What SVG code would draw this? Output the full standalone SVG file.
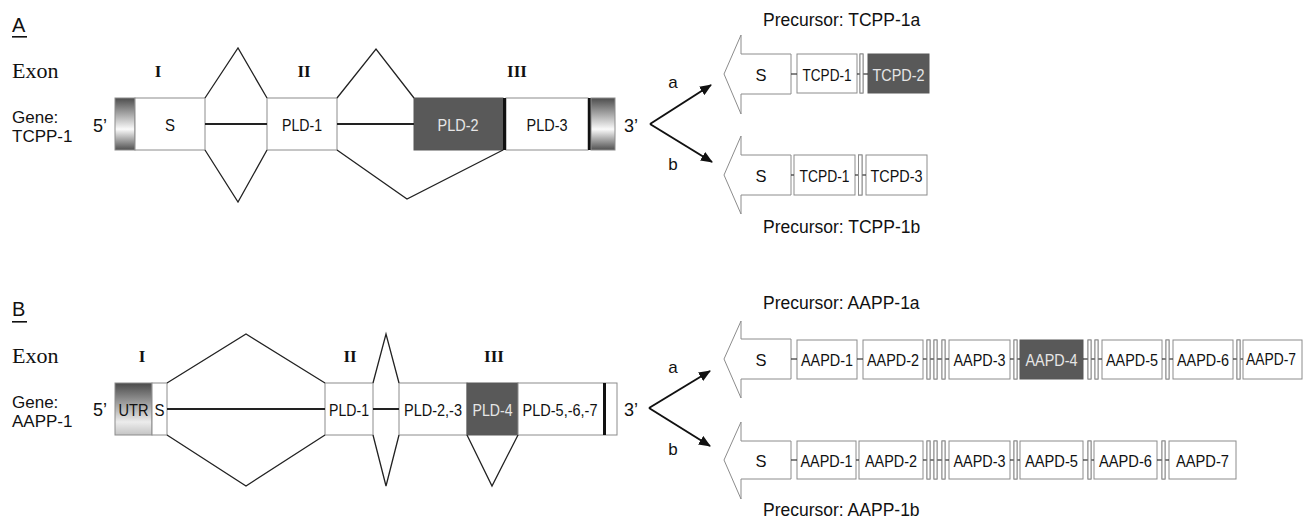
<svg xmlns="http://www.w3.org/2000/svg" width="1305" height="522" viewBox="0 0 1305 522">
<style>
.bg{fill:#fff}
.box{fill:#fff;stroke:#8c8c8c;stroke-width:1}
.dark{fill:#595959;stroke:#595959;stroke-width:1}
.bar{fill:#fff;stroke:#8c8c8c;stroke-width:1}
.blk{fill:#111}
.intr{fill:none;stroke:#222;stroke-width:1.3;stroke-linejoin:miter}
.hl{stroke:#222;stroke-width:2}
.cl{stroke:#333;stroke-width:1.2}
.arr{stroke:#111;stroke-width:2}
.sans{font-family:"Liberation Sans",Arial,sans-serif;fill:#111}
.lbl{font-family:"Liberation Sans",Arial,sans-serif;font-size:17px;fill:#111;text-anchor:middle}
.lbw{font-family:"Liberation Sans",Arial,sans-serif;font-size:17px;fill:#e6e6e6;text-anchor:middle}
.ser{font-family:"Liberation Serif","Times New Roman",serif;fill:#111}
.rom{font-family:"Liberation Serif","Times New Roman",serif;font-size:17px;font-weight:bold;fill:#111;text-anchor:middle}
.big{fill:#fff;stroke:#8c8c8c;stroke-width:1}
</style>
<defs>
<linearGradient id="capA" x1="0" y1="0" x2="0" y2="1">
<stop offset="0" stop-color="#4d4d4d"/><stop offset="0.6" stop-color="#fafafa"/><stop offset="1" stop-color="#505050"/>
</linearGradient>
<linearGradient id="capB" x1="0" y1="0" x2="0" y2="1">
<stop offset="0" stop-color="#4a4a4a"/><stop offset="0.75" stop-color="#ececec"/><stop offset="1" stop-color="#c4c4c4"/>
</linearGradient>
<marker id="ah" viewBox="0 0 12 10" refX="11" refY="5" markerWidth="12" markerHeight="10" markerUnits="userSpaceOnUse" orient="auto">
<path d="M0,0 L12,5 L0,10 Z" fill="#111"/>
</marker>
</defs>
<rect class="bg" x="0" y="0" width="1305" height="522"/>

<g id="labelsA">
<text class="sans" x="12" y="32" font-size="20">A</text>
<rect x="12" y="36" width="15" height="1.6" fill="#111"/>
<text class="ser" x="12" y="78" font-size="22">Exon</text>
<text class="rom" x="158" y="77">I</text>
<text class="rom" x="304" y="77">II</text>
<text class="rom" x="517" y="77">III</text>
<text class="sans" x="12" y="123" font-size="17">Gene:</text>
<text class="sans" x="12" y="142" font-size="17">TCPP-1</text>
<text class="sans" x="93" y="132" font-size="18">5’</text>
<text class="sans" x="624" y="132" font-size="18">3’</text>
</g>

<g id="geneA">
<rect x="115" y="98" width="20" height="52" fill="url(#capA)" stroke="#8c8c8c"/>
<rect class="box" x="135" y="98" width="70" height="52"/>
<text class="lbl" x="170" y="130.5" textLength="10" lengthAdjust="spacingAndGlyphs">S</text>
<rect class="box" x="267" y="98" width="70" height="52"/>
<text class="lbl" x="302" y="130.5" textLength="40" lengthAdjust="spacingAndGlyphs">PLD-1</text>
<rect class="dark" x="414" y="98" width="89" height="52"/>
<text class="lbw" x="458" y="130.5" textLength="41" lengthAdjust="spacingAndGlyphs">PLD-2</text>
<rect class="box" x="506" y="98" width="82" height="52"/>
<text class="lbl" x="547" y="130.5" textLength="41" lengthAdjust="spacingAndGlyphs">PLD-3</text>
<rect class="blk" x="503" y="98" width="3" height="52"/>
<rect class="blk" x="588" y="98" width="3" height="52"/>
<rect x="591" y="98" width="24" height="52" fill="url(#capA)" stroke="#8c8c8c"/>
</g>

<g id="precA_a">
<text class="sans" x="763" y="26" font-size="17.5">Precursor: TCPP-1a</text>
<polygon class="big" points="724,74 741,35 741,54 791,54 791,94 741,94 741,114"/>
<text class="lbl" x="761" y="80.5" textLength="11" lengthAdjust="spacingAndGlyphs">S</text>
<rect class="box" x="797" y="54" width="60" height="39"/>
<text class="lbl" x="827" y="80.5" textLength="49" lengthAdjust="spacingAndGlyphs">TCPD-1</text>
<rect class="bar" x="860" y="54" width="3" height="39"/>
<rect class="dark" x="868" y="54" width="61" height="39"/>
<text class="lbw" x="898.5" y="80.5" textLength="52" lengthAdjust="spacingAndGlyphs">TCPD-2</text>
</g>

<g id="precA_b">
<polygon class="big" points="724,175 741,136 741,155 791,155 791,195 741,195 741,214"/>
<text class="lbl" x="761" y="181.5" textLength="11" lengthAdjust="spacingAndGlyphs">S</text>
<rect class="box" x="794" y="155" width="61" height="40"/>
<text class="lbl" x="824.5" y="181.5" textLength="50" lengthAdjust="spacingAndGlyphs">TCPD-1</text>
<rect class="bar" x="858.5" y="155" width="3.5" height="40"/>
<rect class="box" x="866" y="155" width="61" height="40"/>
<text class="lbl" x="896.5" y="181.5" textLength="52" lengthAdjust="spacingAndGlyphs">TCPD-3</text>
<text class="sans" x="763" y="233" font-size="17.5">Precursor: TCPP-1b</text>
</g>

<g id="labelsB">
<text class="sans" x="12" y="316" font-size="20">B</text>
<rect x="12" y="321" width="15" height="1.6" fill="#111"/>
<text class="ser" x="12" y="363" font-size="22">Exon</text>
<text class="rom" x="142" y="362">I</text>
<text class="rom" x="350" y="362">II</text>
<text class="rom" x="494" y="362">III</text>
<text class="sans" x="12" y="408" font-size="17">Gene:</text>
<text class="sans" x="12" y="427" font-size="17">AAPP-1</text>
<text class="sans" x="93" y="416" font-size="18">5’</text>
<text class="sans" x="624" y="416" font-size="18">3’</text>
</g>

<g id="geneB">
<rect x="115" y="383" width="37" height="52" fill="url(#capB)" stroke="#8c8c8c"/>
<text class="lbl" x="133.5" y="415.5" textLength="30" lengthAdjust="spacingAndGlyphs">UTR</text>
<rect class="box" x="152" y="383" width="15" height="52"/>
<text class="lbl" x="159.5" y="415.5" textLength="10" lengthAdjust="spacingAndGlyphs">S</text>
<rect class="box" x="325" y="383" width="48" height="52"/>
<text class="lbl" x="349" y="415.5" textLength="40" lengthAdjust="spacingAndGlyphs">PLD-1</text>
<rect class="box" x="399" y="383" width="68" height="52"/>
<text class="lbl" x="433" y="415.5" textLength="58" lengthAdjust="spacingAndGlyphs">PLD-2,-3</text>
<rect class="dark" x="467" y="383" width="51" height="52"/>
<text class="lbw" x="492.5" y="415.5" textLength="40" lengthAdjust="spacingAndGlyphs">PLD-4</text>
<rect class="box" x="518" y="383" width="99" height="52"/>
<text class="lbl" x="560" y="415.5" textLength="75" lengthAdjust="spacingAndGlyphs">PLD-5,-6,-7</text>
<rect class="blk" x="603" y="383" width="3" height="52"/>
</g>

<g id="precB_a">
<text class="sans" x="763" y="309" font-size="17.5">Precursor: AAPP-1a</text>
<polygon class="big" points="724,359 741,321 741,339 791,339 791,379 741,379 741,398"/>
<text class="lbl" x="761" y="365.5" textLength="11" lengthAdjust="spacingAndGlyphs">S</text>
<rect class="box" x="797" y="340" width="60" height="39"/>
<text class="lbl" x="827" y="365.5" textLength="52" lengthAdjust="spacingAndGlyphs">AAPD-1</text>
<rect class="box" x="863" y="340" width="60" height="39"/>
<text class="lbl" x="893" y="365.5" textLength="52" lengthAdjust="spacingAndGlyphs">AAPD-2</text>
<rect class="bar" x="927" y="340" width="3" height="39"/>
<rect class="bar" x="934" y="340" width="3" height="39"/>
<rect class="bar" x="942" y="340" width="3" height="39"/>
<rect class="box" x="949" y="340" width="61" height="39"/>
<text class="lbl" x="979.5" y="365.5" textLength="52" lengthAdjust="spacingAndGlyphs">AAPD-3</text>
<rect class="bar" x="1014" y="340" width="3" height="39"/>
<rect class="dark" x="1020" y="340" width="63" height="39"/>
<text class="lbw" x="1051.5" y="365.5" textLength="52" lengthAdjust="spacingAndGlyphs">AAPD-4</text>
<rect class="bar" x="1088" y="340" width="3" height="39"/>
<rect class="bar" x="1095" y="340" width="3" height="39"/>
<rect class="box" x="1102" y="340" width="60" height="39"/>
<text class="lbl" x="1132" y="365.5" textLength="52" lengthAdjust="spacingAndGlyphs">AAPD-5</text>
<rect class="bar" x="1166" y="340" width="3" height="39"/>
<rect class="box" x="1173" y="340" width="60" height="39"/>
<text class="lbl" x="1203" y="365.5" textLength="52" lengthAdjust="spacingAndGlyphs">AAPD-6</text>
<rect class="bar" x="1237" y="340" width="3" height="39"/>
<rect class="box" x="1243" y="340" width="59" height="39"/>
<text class="lbl" x="1271" y="365" font-size="16" textLength="50" lengthAdjust="spacingAndGlyphs">AAPD-7</text>
</g>

<g id="precB_b">
<polygon class="big" points="724,460 741,422 741,441 791,441 791,479 741,479 741,499"/>
<text class="lbl" x="761" y="466.5" textLength="11" lengthAdjust="spacingAndGlyphs">S</text>
<rect class="box" x="797" y="441" width="59" height="38"/>
<text class="lbl" x="826.5" y="466.5" textLength="52" lengthAdjust="spacingAndGlyphs">AAPD-1</text>
<rect class="box" x="859" y="441" width="64" height="38"/>
<text class="lbl" x="891" y="466.5" textLength="52" lengthAdjust="spacingAndGlyphs">AAPD-2</text>
<rect class="bar" x="927" y="441" width="3" height="38"/>
<rect class="bar" x="934" y="441" width="3" height="38"/>
<rect class="bar" x="942" y="441" width="3" height="38"/>
<rect class="box" x="949" y="441" width="61" height="38"/>
<text class="lbl" x="979.5" y="466.5" textLength="52" lengthAdjust="spacingAndGlyphs">AAPD-3</text>
<rect class="bar" x="1014" y="441" width="3" height="38"/>
<rect class="box" x="1020" y="441" width="63" height="38"/>
<text class="lbl" x="1051.5" y="466.5" textLength="53" lengthAdjust="spacingAndGlyphs">AAPD-5</text>
<rect class="bar" x="1088" y="441" width="3" height="38"/>
<rect class="box" x="1094" y="441" width="63" height="38"/>
<text class="lbl" x="1125.5" y="466.5" textLength="53" lengthAdjust="spacingAndGlyphs">AAPD-6</text>
<rect class="bar" x="1162" y="441" width="3" height="38"/>
<rect class="box" x="1169" y="441" width="67" height="38"/>
<text class="lbl" x="1202.5" y="466.5" textLength="53" lengthAdjust="spacingAndGlyphs">AAPD-7</text>
<text class="sans" x="763" y="516" font-size="17.5">Precursor: AAPP-1b</text>
</g>

<g id="connectors">
<polyline class="intr" points="205,98 238,48 267,98"/>
<polyline class="intr" points="205,150 238,202 267,150"/>
<line class="hl" x1="205" y1="124" x2="267" y2="124"/>
<polyline class="intr" points="337,98 376,49 414,98"/>
<polyline class="intr" points="337,150 407,199 503,150"/>
<line class="hl" x1="337" y1="124" x2="414" y2="124"/>
<polyline class="intr" points="167,383 246,334 325,383"/>
<polyline class="intr" points="167,435 246,486 325,435"/>
<line class="hl" x1="167" y1="409" x2="325" y2="409"/>
<polyline class="intr" points="373,383 386,334 399,383"/>
<polyline class="intr" points="373,435 386,486 399,435"/>
<line class="hl" x1="373" y1="409" x2="399" y2="409"/>
<polyline class="intr" points="467,435 492,486 518,435"/>
<line class="arr" x1="650" y1="124" x2="711" y2="85" marker-end="url(#ah)"/>
<line class="arr" x1="650" y1="124" x2="712" y2="162" marker-end="url(#ah)"/>
<text class="sans" x="673" y="88" font-size="17" text-anchor="middle">a</text>
<text class="sans" x="673" y="170" font-size="17" text-anchor="middle">b</text>
<line class="arr" x1="649" y1="408" x2="710" y2="371" marker-end="url(#ah)"/>
<line class="arr" x1="649" y1="408" x2="710" y2="446" marker-end="url(#ah)"/>
<text class="sans" x="673" y="373" font-size="17" text-anchor="middle">a</text>
<text class="sans" x="673" y="455" font-size="17" text-anchor="middle">b</text>
<line class="cl" x1="791" y1="74" x2="797" y2="74"/>
<line class="cl" x1="857" y1="74" x2="868" y2="74"/>
<line class="cl" x1="791" y1="175" x2="794" y2="175"/>
<line class="cl" x1="855" y1="175" x2="866" y2="175"/>
<line class="cl" x1="791" y1="359" x2="797" y2="359"/>
<line class="cl" x1="857" y1="359" x2="863" y2="359"/>
<line class="cl" x1="923" y1="359" x2="949" y2="359"/>
<line class="cl" x1="1010" y1="359" x2="1020" y2="359"/>
<line class="cl" x1="1083" y1="359" x2="1102" y2="359"/>
<line class="cl" x1="1162" y1="359" x2="1173" y2="359"/>
<line class="cl" x1="1233" y1="359" x2="1243" y2="359"/>
<line class="cl" x1="791" y1="460" x2="797" y2="460"/>
<line class="cl" x1="856" y1="460" x2="859" y2="460"/>
<line class="cl" x1="923" y1="460" x2="949" y2="460"/>
<line class="cl" x1="1010" y1="460" x2="1020" y2="460"/>
<line class="cl" x1="1083" y1="460" x2="1094" y2="460"/>
<line class="cl" x1="1157" y1="460" x2="1169" y2="460"/>
</g>
<g id="bars">
<rect class="bar" x="860" y="54" width="3" height="39"/>
<rect class="bar" x="858.5" y="155" width="3.5" height="40"/>
<rect class="bar" x="927" y="340" width="3" height="39"/>
<rect class="bar" x="934" y="340" width="3" height="39"/>
<rect class="bar" x="942" y="340" width="3" height="39"/>
<rect class="bar" x="1014" y="340" width="3" height="39"/>
<rect class="bar" x="1088" y="340" width="3" height="39"/>
<rect class="bar" x="1095" y="340" width="3" height="39"/>
<rect class="bar" x="1166" y="340" width="3" height="39"/>
<rect class="bar" x="1237" y="340" width="3" height="39"/>
<rect class="bar" x="927" y="441" width="3" height="38"/>
<rect class="bar" x="934" y="441" width="3" height="38"/>
<rect class="bar" x="942" y="441" width="3" height="38"/>
<rect class="bar" x="1014" y="441" width="3" height="38"/>
<rect class="bar" x="1088" y="441" width="3" height="38"/>
<rect class="bar" x="1162" y="441" width="3" height="38"/>
</g>
</svg>
